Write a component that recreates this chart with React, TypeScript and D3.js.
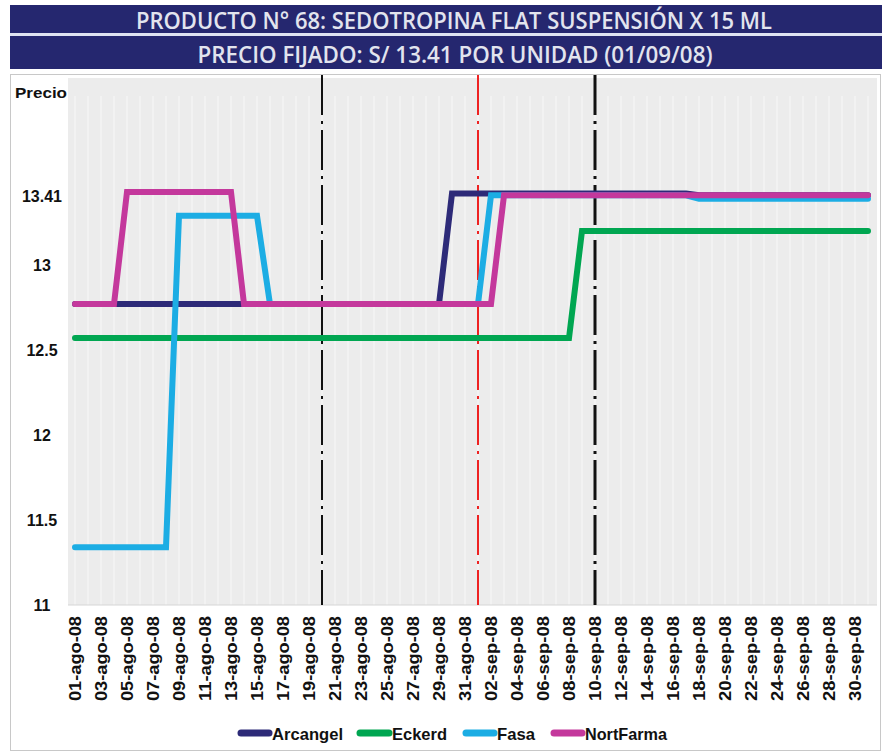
import React from "react";
import * as d3 from "d3";

const TITLE_1 = "PRODUCTO N° 68: SEDOTROPINA FLAT SUSPENSIÓN X 15 ML";
const TITLE_2 = "PRECIO FIJADO: S/ 13.41 POR UNIDAD (01/09/08)";
const Y_LABEL = "Precio";

const MONTHS_ES = ["ene", "feb", "mar", "abr", "may", "jun", "jul", "ago", "sep", "oct", "nov", "dic"];
const DAYS: Date[] = d3.timeDay.range(new Date(2008, 7, 1), new Date(2008, 9, 2));
const fmtDay = (d: Date) => `${d3.format("02d")(d.getDate())}-${MONTHS_ES[d.getMonth()]}-08`;
const CATEGORIES: string[] = DAYS.map(fmtDay);

const Y_TICKS = [11, 11.5, 12, 12.5, 13, 13.41];

const ARCANGEL = [
  12.77, 12.77, 12.77, 12.77, 12.77, 12.77, 12.77, 12.77, 12.77, 12.77,
  12.77, 12.77, 12.77, 12.77, 12.77, 12.77, 12.77, 12.77, 12.77, 12.77,
  12.77, 12.77, 12.77, 12.77, 12.77, 12.77, 12.77, 12.77, 12.77, 13.42,
  13.42, 13.42, 13.42, 13.42, 13.42, 13.42, 13.42, 13.42, 13.42, 13.42,
  13.42, 13.42, 13.42, 13.42, 13.42, 13.42, 13.42, 13.42, 13.41, 13.41,
  13.41, 13.41, 13.41, 13.41, 13.41, 13.41, 13.41, 13.41, 13.41, 13.41,
  13.41, 13.41,
];
const ECKERD = [
  12.57, 12.57, 12.57, 12.57, 12.57, 12.57, 12.57, 12.57, 12.57, 12.57,
  12.57, 12.57, 12.57, 12.57, 12.57, 12.57, 12.57, 12.57, 12.57, 12.57,
  12.57, 12.57, 12.57, 12.57, 12.57, 12.57, 12.57, 12.57, 12.57, 12.57,
  12.57, 12.57, 12.57, 12.57, 12.57, 12.57, 12.57, 12.57, 12.57, 13.2,
  13.2, 13.2, 13.2, 13.2, 13.2, 13.2, 13.2, 13.2, 13.2, 13.2,
  13.2, 13.2, 13.2, 13.2, 13.2, 13.2, 13.2, 13.2, 13.2, 13.2,
  13.2, 13.2,
];
const FASA = [
  11.34, 11.34, 11.34, 11.34, 11.34, 11.34, 11.34, 11.34, 13.29, 13.29,
  13.29, 13.29, 13.29, 13.29, 13.29, 12.77, 12.77, 12.77, 12.77, 12.77,
  12.77, 12.77, 12.77, 12.77, 12.77, 12.77, 12.77, 12.77, 12.77, 12.77,
  12.77, 12.77, 13.41, 13.41, 13.41, 13.41, 13.41, 13.41, 13.41, 13.41,
  13.41, 13.41, 13.41, 13.41, 13.41, 13.41, 13.41, 13.41, 13.39, 13.39,
  13.39, 13.39, 13.39, 13.39, 13.39, 13.39, 13.39, 13.39, 13.39, 13.39,
  13.39, 13.39,
];
const NORTFARMA = [
  12.77, 12.77, 12.77, 12.77, 13.43, 13.43, 13.43, 13.43, 13.43, 13.43,
  13.43, 13.43, 13.43, 12.77, 12.77, 12.77, 12.77, 12.77, 12.77, 12.77,
  12.77, 12.77, 12.77, 12.77, 12.77, 12.77, 12.77, 12.77, 12.77, 12.77,
  12.77, 12.77, 12.77, 13.41, 13.41, 13.41, 13.41, 13.41, 13.41, 13.41,
  13.41, 13.41, 13.41, 13.41, 13.41, 13.41, 13.41, 13.41, 13.41, 13.41,
  13.41, 13.41, 13.41, 13.41, 13.41, 13.41, 13.41, 13.41, 13.41, 13.41,
  13.41, 13.41,
];

const SERIES_NAMES = ["Arcangel", "Eckerd", "Fasa", "NortFarma"];
const SERIES_VALUES = [ARCANGEL, ECKERD, FASA, NORTFARMA];
const SERIES_COLORS = ["#2d2a78", "#00a651", "#1cade4", "#c4389c"];

const REF_DATES = ["20-ago-08", "01-sep-08", "10-sep-08"];
const REF_COLORS = ["#111111", "#ee2222", "#111111"];
const REF_WIDTHS = [2, 2, 3];

const W = 882;
const H = 756;
const PLOT = { left: 68, right: 877, top: 78, bottom: 605 };

export default function App() {
  const x = d3
    .scalePoint<string>()
    .domain(CATEGORIES)
    .range([75, 75 + 13 * (CATEGORIES.length - 1)]);
  const y = d3.scaleLinear().domain([11, 14.1]).range([PLOT.bottom, PLOT.top]);
  const line = d3
    .line<number>()
    .x((_, i) => x(CATEGORIES[i]) as number)
    .y((v) => y(v));

  const legendLine = [238, 357, 463, 551];
  const legendLineEnd = [272, 392, 497, 585];
  const legendTextLen = [71, 55, 38, 82];

  return (
    <svg
      width={W}
      height={H}
      style={{ position: "absolute", left: 0, top: 0, background: "#fff" }}
      fontFamily="'Liberation Sans', Arial, sans-serif"
    >
      {/* header banners */}
      <rect x={10} y={5} width={872} height={28} fill="#25276f" />
      <rect x={10} y={33} width={872} height={3} fill="#dfe3f2" />
      <rect x={10} y={36} width={872} height={33} fill="#25276f" />
      <text
        x={454}
        y={29}
        textAnchor="middle"
        fill="#e2e4ee"
        fontFamily="'Open Sans', sans-serif"
        fontWeight={600}
        fontSize={23}
        textLength={636}
        lengthAdjust="spacingAndGlyphs"
      >
        {TITLE_1}
      </text>
      <text
        x={455}
        y={63}
        textAnchor="middle"
        fill="#e2e4ee"
        fontFamily="'Open Sans', sans-serif"
        fontWeight={600}
        fontSize={23}
        textLength={515}
        lengthAdjust="spacingAndGlyphs"
      >
        {TITLE_2}
      </text>

      {/* chart box */}
      <rect x={10.5} y={74.5} width={870} height={676} fill="#fff" stroke="#c8c8c8" />
      <rect
        x={PLOT.left}
        y={PLOT.top}
        width={PLOT.right - PLOT.left}
        height={PLOT.bottom - PLOT.top}
        fill="#ececec"
      />
      {CATEGORIES.map((c) => (
        <line
          key={"g" + c}
          x1={x(c)}
          x2={x(c)}
          y1={PLOT.top + 18}
          y2={PLOT.bottom}
          stroke="#f8f8f8"
          strokeWidth={1}
        />
      ))}
      <line x1={PLOT.left} x2={PLOT.right} y1={PLOT.bottom} y2={PLOT.bottom} stroke="#d6d6d6" />

      <text x={15} y={98} fontWeight="bold" fontSize={15} fill="#111" textLength={52} lengthAdjust="spacingAndGlyphs">
        {Y_LABEL}
      </text>

      {/* y ticks */}
      {Y_TICKS.map((t) => (
        <text
          key={"y" + t}
          x={42}
          y={y(t) + 2}
          textAnchor="middle"
          dominantBaseline="middle"
          fontWeight="bold"
          fontSize={16}
          fill="#111"
        >
          {t}
        </text>
      ))}

      {/* reference lines */}
      {REF_DATES.map((d, i) => (
        <line
          key={"r" + d}
          x1={x(d)}
          x2={x(d)}
          y1={PLOT.top - 3}
          y2={PLOT.bottom}
          stroke={REF_COLORS[i]}
          strokeWidth={REF_WIDTHS[i]}
          strokeDasharray="40 6 3 6"
        />
      ))}

      {/* series */}
      {SERIES_VALUES.map((vals, i) => (
        <path
          key={SERIES_NAMES[i]}
          d={line(vals) || ""}
          fill="none"
          stroke={SERIES_COLORS[i]}
          strokeWidth={6}
          strokeLinejoin="miter"
          strokeLinecap="round"
        />
      ))}

      {/* x labels */}
      {CATEGORIES.filter((_, i) => i % 2 === 0 && i <= 60).map((c) => (
        <text
          key={"x" + c}
          transform={`translate(${(x(c) as number) + 6},616) rotate(-90)`}
          textAnchor="end"
          fontWeight="bold"
          fontSize={16}
          fill="#111"
          textLength={85}
          lengthAdjust="spacingAndGlyphs"
        >
          {c}
        </text>
      ))}

      {/* legend */}
      {SERIES_NAMES.map((n, i) => (
        <g key={"l" + n}>
          <line
            x1={legendLine[i] + 3}
            x2={legendLineEnd[i] - 3}
            y1={733}
            y2={733}
            stroke={SERIES_COLORS[i]}
            strokeWidth={7}
            strokeLinecap="round"
          />
          <text
            x={legendLineEnd[i]}
            y={740}
            fontWeight="bold"
            fontSize={17}
            fill="#111"
            textLength={legendTextLen[i]}
            lengthAdjust="spacingAndGlyphs"
          >
            {n}
          </text>
        </g>
      ))}
    </svg>
  );
}
